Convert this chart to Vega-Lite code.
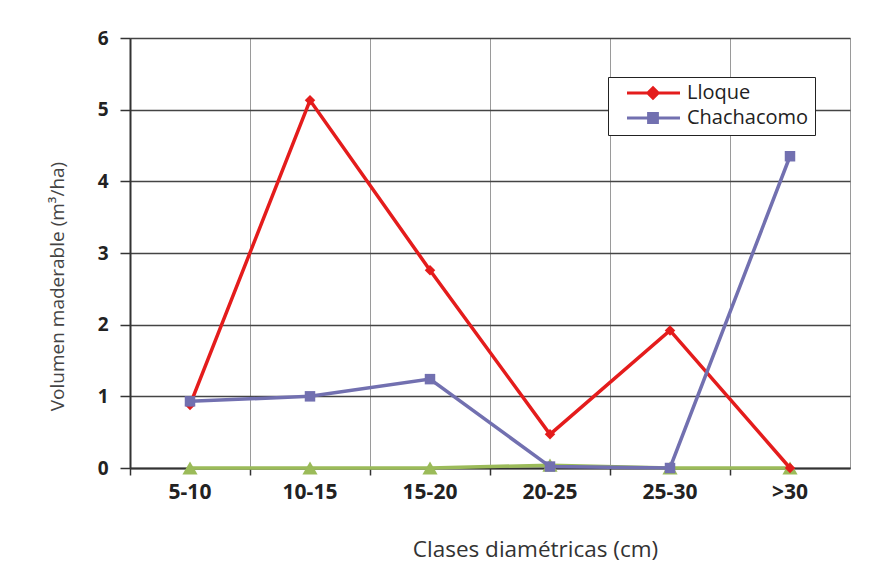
{
  "$schema": "https://vega.github.io/schema/vega-lite/v6.json",
  "autosize": "none",
  "width": 720,
  "height": 430,
  "padding": {"left": 130, "top": 38, "right": 27, "bottom": 115},
  "background": "white",
  "config": {
    "font": "Open Sans",
    "view": {"stroke": "#9a9a9a", "strokeWidth": 1}
  },
  "data": {
    "values": [
      {"clase": "5-10", "serie": "Lloque", "volumen": 0.88},
      {"clase": "10-15", "serie": "Lloque", "volumen": 5.13},
      {"clase": "15-20", "serie": "Lloque", "volumen": 2.76},
      {"clase": "20-25", "serie": "Lloque", "volumen": 0.47},
      {"clase": "25-30", "serie": "Lloque", "volumen": 1.92},
      {"clase": ">30", "serie": "Lloque", "volumen": 0.0},
      {"clase": "5-10", "serie": "Chachacomo", "volumen": 0.93},
      {"clase": "10-15", "serie": "Chachacomo", "volumen": 1.0},
      {"clase": "15-20", "serie": "Chachacomo", "volumen": 1.24},
      {"clase": "20-25", "serie": "Chachacomo", "volumen": 0.02},
      {"clase": "25-30", "serie": "Chachacomo", "volumen": 0.0},
      {"clase": ">30", "serie": "Chachacomo", "volumen": 4.35},
      {"clase": "5-10", "serie": "Otra", "volumen": 0.0},
      {"clase": "10-15", "serie": "Otra", "volumen": 0.0},
      {"clase": "15-20", "serie": "Otra", "volumen": 0.0},
      {"clase": "20-25", "serie": "Otra", "volumen": 0.04},
      {"clase": "25-30", "serie": "Otra", "volumen": 0.0},
      {"clase": ">30", "serie": "Otra", "volumen": 0.0}
    ]
  },
  "encoding": {
    "x": {
      "field": "clase",
      "type": "nominal",
      "sort": ["5-10", "10-15", "15-20", "20-25", "25-30", ">30"],
      "scale": {"type": "band", "paddingInner": 0, "paddingOuter": 0},
      "axis": {
        "title": "Clases diamétricas (cm)",
        "titleFontSize": 22.5,
        "titleFontWeight": "normal",
        "titleColor": "#333333",
        "titlePadding": 36,
        "titleX": 405,
        "labelFontSize": 21,
        "labelFontWeight": "bold",
        "labelColor": "#222222",
        "labelAngle": 0,
        "labelPadding": 6,
        "bandPosition": 0,
        "tickSize": 7,
        "tickColor": "#333333",
        "tickWidth": 1.5,
        "grid": true,
        "gridColor": "#9a9a9a",
        "gridWidth": 1,
        "domainColor": "#333333",
        "domainWidth": 2
      }
    },
    "y": {
      "field": "volumen",
      "type": "quantitative",
      "scale": {"domain": [0, 6], "nice": false},
      "axis": {
        "values": [0, 1, 2, 3, 4, 5, 6],
        "title": "Volumen maderable (m³/ha)",
        "titleFontSize": 19,
        "titleFontWeight": "normal",
        "titleColor": "#444444",
        "titlePadding": 30,
        "titleY": 248,
        "labelFontSize": 19,
        "labelFontWeight": "bold",
        "labelColor": "#222222",
        "labelPadding": 12,
        "tickSize": 10,
        "tickColor": "#333333",
        "tickWidth": 1.5,
        "grid": true,
        "gridColor": "#444444",
        "gridWidth": 1.5,
        "domainColor": "#333333",
        "domainWidth": 2
      }
    }
  },
  "layer": [
    {
      "transform": [{"filter": "datum.serie === 'Otra'"}],
      "mark": {"type": "line", "color": "#9bbb59", "strokeWidth": 3.5},
      "encoding": {}
    },
    {
      "transform": [{"filter": "datum.serie === 'Otra'"}],
      "mark": {"type": "point", "shape": "triangle-up", "filled": true, "color": "#9bbb59", "size": 230, "opacity": 1},
      "encoding": {}
    },
    {
      "transform": [{"filter": "datum.serie !== 'Otra'"}],
      "mark": {"type": "line", "strokeWidth": 3.5},
      "encoding": {
        "color": {
          "field": "serie",
          "type": "nominal",
          "sort": ["Lloque", "Chachacomo"],
          "scale": {"domain": ["Lloque", "Chachacomo"], "range": ["#e41c1c", "#7270b0"]},
          "legend": {
            "title": null,
            "orient": "none",
            "legendX": 478,
            "legendY": 39,
            "strokeColor": "#222222",
            "fillColor": "white",
            "padding": 6,
            "labelFontSize": 20,
            "labelColor": "#222222",
            "labelOffset": 53,
            "rowPadding": 2,
            "symbolSize": 64,
            "symbolStrokeWidth": 3,
            "encode": {
              "symbols": {
                "update": {
                  "shape": {"signal": "datum.value === 'Lloque' ? 'M0.75,0H14M7.25,-1.3L8.55,0L7.25,1.3L5.95,0Z' : 'M0.75,0H14M6.15,-1.1H8.35V1.1H6.15Z'"},
                  "fill": {"signal": "datum.value === 'Lloque' ? '#e41c1c' : '#7270b0'"},
                  "stroke": {"signal": "datum.value === 'Lloque' ? '#e41c1c' : '#7270b0'"},
                  "strokeWidth": {"value": 3},
                  "opacity": {"value": 1}
                }
              }
            }
          }
        }
      }
    },
    {
      "transform": [{"filter": "datum.serie === 'Lloque'"}],
      "mark": {"type": "point", "shape": "diamond", "filled": true, "size": 110, "opacity": 1, "color": "#e41c1c"},
      "encoding": {}
    },
    {
      "transform": [{"filter": "datum.serie === 'Chachacomo'"}],
      "mark": {"type": "point", "shape": "square", "filled": true, "size": 110, "opacity": 1, "color": "#7270b0"},
      "encoding": {}
    }
  ]
}
